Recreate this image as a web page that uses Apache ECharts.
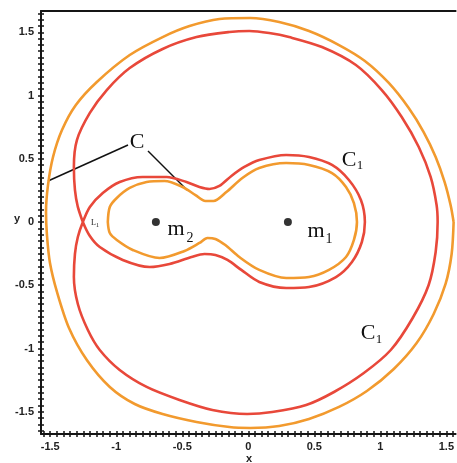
<!DOCTYPE html>
<html>
<head>
<meta charset="utf-8">
<script src="https://cdn.jsdelivr.net/npm/echarts@6/dist/echarts.min.js"></script>
<style>
  html, body { margin: 0; padding: 0; background: #fff; }
  #chart { width: 457px; height: 463px; }
</style>
</head>
<body>
<div id="chart"></div>
<script>
// Outer branch of the zero-velocity curve C (orange)
const orangeOuter = [
  [1.555, 0], [1.532, 0.134], [1.487, 0.316], [1.419, 0.514], [1.328, 0.711],
  [1.215, 0.901], [1.064, 1.099], [0.883, 1.273], [0.687, 1.399], [0.460, 1.510],
  [0.234, 1.581], [0.015, 1.613], [-0.219, 1.605], [-0.445, 1.549], [-0.649, 1.462],
  [-0.898, 1.320], [-1.147, 1.107], [-1.306, 0.925], [-1.411, 0.727], [-1.479, 0.514],
  [-1.517, 0.292], [-1.532, 0.079], [-1.525, -0.103], [-1.502, -0.324], [-1.449, -0.553],
  [-1.358, -0.838], [-1.223, -1.091], [-1.049, -1.304], [-0.860, -1.439], [-0.649, -1.518],
  [-0.392, -1.581], [-0.143, -1.621], [0.015, -1.628], [0.234, -1.613], [0.460, -1.557],
  [0.687, -1.462], [0.898, -1.336], [1.102, -1.162], [1.275, -0.957], [1.404, -0.727],
  [1.494, -0.490], [1.540, -0.253], [1.555, 0]
];

// Inner oval of C around both masses (orange)
const orangeInner = [
  [-1.064, 0], [-1.049, 0.119], [-0.996, 0.190], [-0.898, 0.269], [-0.770, 0.316],
  [-0.634, 0.324], [-0.498, 0.277], [-0.400, 0.213], [-0.325, 0.166], [-0.264, 0.166],
  [-0.166, 0.237], [-0.045, 0.348], [0.083, 0.427], [0.287, 0.466], [0.460, 0.451],
  [0.634, 0.387], [0.740, 0.277], [0.800, 0.150], [0.823, 0], [0.800, -0.142],
  [0.740, -0.277], [0.611, -0.379], [0.460, -0.435], [0.287, -0.443], [0.083, -0.379],
  [-0.068, -0.277], [-0.174, -0.182], [-0.249, -0.134], [-0.309, -0.126], [-0.370, -0.166],
  [-0.483, -0.229], [-0.672, -0.285], [-0.875, -0.221], [-0.996, -0.142], [-1.049, -0.087],
  [-1.064, 0]
];

// Critical curve C1 through the collinear point L1 (red): outer loop, then the inner dumbbell
const redCurve = [
  [-1.253, 0], [-1.291, 0.119], [-1.313, 0.253], [-1.321, 0.435], [-1.298, 0.648],
  [-1.200, 0.862], [-1.072, 1.043], [-0.898, 1.217], [-0.649, 1.368], [-0.392, 1.462],
  [-0.143, 1.502], [0.008, 1.510], [0.158, 1.494], [0.309, 1.462], [0.558, 1.383],
  [0.815, 1.241], [1.011, 1.043], [1.162, 0.830], [1.291, 0.593], [1.381, 0.356],
  [1.426, 0.134], [1.434, 0], [1.419, -0.237], [1.366, -0.498], [1.245, -0.759],
  [1.079, -1.012], [0.875, -1.194], [0.649, -1.344], [0.438, -1.447], [0.181, -1.502],
  [-0.008, -1.518], [-0.272, -1.486], [-0.521, -1.407], [-0.770, -1.304], [-0.974, -1.170],
  [-1.125, -1.012], [-1.215, -0.854], [-1.291, -0.648], [-1.321, -0.435], [-1.313, -0.253],
  [-1.291, -0.119], [-1.253, 0],
  [-1.200, 0.119], [-1.102, 0.229], [-0.974, 0.316], [-0.800, 0.356], [-0.619, 0.356],
  [-0.468, 0.316], [-0.370, 0.277], [-0.294, 0.261], [-0.219, 0.285], [-0.128, 0.364],
  [-0.030, 0.435], [0.083, 0.490], [0.287, 0.530], [0.460, 0.514], [0.634, 0.451],
  [0.762, 0.332], [0.853, 0.174], [0.883, 0], [0.860, -0.158], [0.785, -0.316],
  [0.664, -0.435], [0.460, -0.514], [0.287, -0.522], [0.083, -0.474], [-0.053, -0.379],
  [-0.158, -0.300], [-0.249, -0.261], [-0.332, -0.253], [-0.430, -0.277], [-0.596, -0.332],
  [-0.747, -0.356], [-0.951, -0.300], [-1.125, -0.198], [-1.200, -0.111], [-1.253, 0],
  [-1.291, 0.119]
];

// Primaries
const masses = [[0.3, 0], [-0.7, 0]];

// Axis tick labels and minor tick positions
const xTickLabels = [-1.5, -1, -0.5, 0, 0.5, 1, 1.5];
const yTickLabels = [-1.5, -1, -0.5, 0, 0.5, 1, 1.5];
const xMinor = [];
for (let i = -31; i <= 31; i++) xMinor.push(+(i * 0.05).toFixed(2));
const yMinor = [];
for (let i = -33; i <= 33; i++) yMinor.push(+(i * 0.05).toFixed(2));

const X_MIN = -1.57, X_MAX = 1.57;
const Y_MIN = -1.676, Y_MAX = 1.668;

const ORANGE = '#F29A2E';
const RED = '#E8483A';
const INK = '#151515';

const labelFont = {
  fontFamily: '"Liberation Sans", Arial, sans-serif',
  fontSize: 11,
  fontWeight: 'bold',
  color: '#222'
};

function baseAxis(min, max) {
  return { type: 'value', min: min, max: max, splitLine: { show: false } };
}

const chart = echarts.init(document.getElementById('chart'), null, { renderer: 'canvas' });

const serif = '"Liberation Serif", "DejaVu Serif", serif';

chart.setOption({
  animation: false,
  backgroundColor: '#fff',
  grid: { left: 41, right: 0, top: 11, bottom: 29, containLabel: false },
  xAxis: [
    Object.assign(baseAxis(X_MIN, X_MAX), {
      position: 'bottom',
      axisLine: { onZero: false, lineStyle: { color: INK, width: 2 } },
      axisTick: { customValues: xMinor, length: 3, lineStyle: { color: INK, width: 1.5 } },
      axisLabel: Object.assign({ customValues: xTickLabels, margin: 7 }, labelFont)
    }),
    Object.assign(baseAxis(X_MIN, X_MAX), {
      position: 'bottom',
      axisLine: { show: false, onZero: false },
      axisTick: { customValues: xMinor, inside: true, length: 3, lineStyle: { color: INK, width: 1.5 } },
      axisLabel: { show: false }
    }),
    Object.assign(baseAxis(X_MIN, X_MAX), {
      position: 'top',
      axisLine: { onZero: false, lineStyle: { color: INK, width: 2 } },
      axisTick: { show: false },
      axisLabel: { show: false }
    })
  ],
  yAxis: [
    Object.assign(baseAxis(Y_MIN, Y_MAX), {
      position: 'left',
      axisLine: { onZero: false, lineStyle: { color: INK, width: 2 } },
      axisTick: { customValues: yMinor, length: 3, lineStyle: { color: INK, width: 1.5 } },
      axisLabel: Object.assign({ customValues: yTickLabels, margin: 7 }, labelFont)
    }),
    Object.assign(baseAxis(Y_MIN, Y_MAX), {
      position: 'left',
      axisLine: { show: false, onZero: false },
      axisTick: { customValues: yMinor, inside: true, length: 3, lineStyle: { color: INK, width: 1.5 } },
      axisLabel: { show: false }
    })
  ],
  series: [
    {
      type: 'line', data: orangeOuter, showSymbol: false, smooth: 0.3,
      lineStyle: { color: ORANGE, width: 2.6 }, silent: true
    },
    {
      type: 'line', data: orangeInner, showSymbol: false, smooth: 0.3,
      lineStyle: { color: ORANGE, width: 2.6 }, silent: true
    },
    {
      type: 'line', data: redCurve, showSymbol: false, smooth: 0.3,
      lineStyle: { color: RED, width: 2.6 }, silent: true
    },
    {
      type: 'scatter', data: masses, symbolSize: 8,
      itemStyle: { color: '#000' }, silent: true, z: 5
    }
  ],
  graphic: [
    // axis names
    { type: 'text', left: 14, top: 213, style: { text: 'y', fill: '#222', font: 'bold 11px "Liberation Sans", Arial, sans-serif' } },
    { type: 'text', left: 246, top: 453, style: { text: 'x', fill: '#222', font: 'bold 11px "Liberation Sans", Arial, sans-serif' } },
    // leader lines from the C label
    { type: 'line', shape: { x1: 128, y1: 145, x2: 48, y2: 181 }, style: { stroke: '#111', lineWidth: 1.5 } },
    { type: 'line', shape: { x1: 148, y1: 151, x2: 187, y2: 190 }, style: { stroke: '#111', lineWidth: 1.5 } },
    { type: 'text', x: 137, y: 142, style: { text: 'C', fill: '#111', font: '22px ' + serif, align: 'center', verticalAlign: 'middle' } },
    // C1 labels
    { type: 'text', x: 349, y: 160, style: { text: 'C', fill: '#111', font: '22px ' + serif, align: 'center', verticalAlign: 'middle' } },
    { type: 'text', x: 360, y: 166, style: { text: '1', fill: '#111', font: '13px ' + serif, align: 'center', verticalAlign: 'middle' } },
    { type: 'text', x: 368, y: 333, style: { text: 'C', fill: '#111', font: '22px ' + serif, align: 'center', verticalAlign: 'middle' } },
    { type: 'text', x: 379, y: 340, style: { text: '1', fill: '#111', font: '13px ' + serif, align: 'center', verticalAlign: 'middle' } },
    // mass labels
    { type: 'text', x: 176, y: 229, style: { text: 'm', fill: '#111', font: '22px ' + serif, align: 'center', verticalAlign: 'middle' } },
    { type: 'text', x: 190, y: 238, style: { text: '2', fill: '#111', font: '14px ' + serif, align: 'center', verticalAlign: 'middle' } },
    { type: 'text', x: 316, y: 231, style: { text: 'm', fill: '#111', font: '22px ' + serif, align: 'center', verticalAlign: 'middle' } },
    { type: 'text', x: 329, y: 239, style: { text: '1', fill: '#111', font: '14px ' + serif, align: 'center', verticalAlign: 'middle' } },
    // L1 marker label
    { type: 'text', x: 91, y: 223, style: { text: 'L', fill: '#111', font: '8px ' + serif, align: 'left', verticalAlign: 'middle' } },
    { type: 'text', x: 96, y: 225, style: { text: '1', fill: '#111', font: '6px ' + serif, align: 'left', verticalAlign: 'middle' } }
  ]
});
</script>
</body>
</html>
